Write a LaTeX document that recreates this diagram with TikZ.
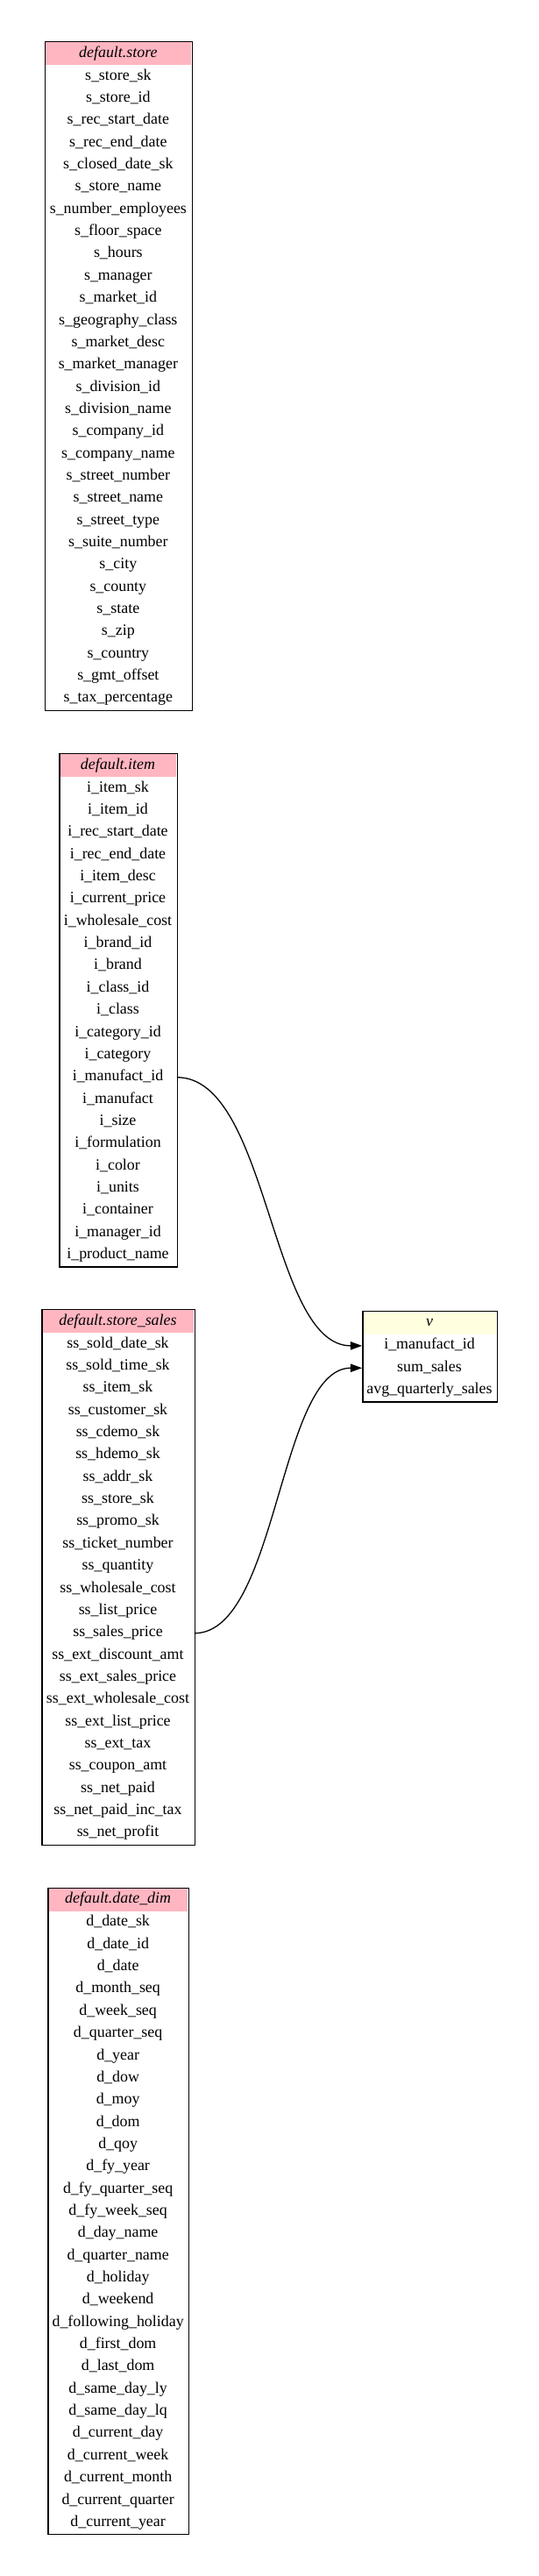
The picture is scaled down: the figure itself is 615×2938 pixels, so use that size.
\documentclass[tikz,border=0pt]{standalone}
\usepackage{fontspec}
\setmainfont{Liberation Serif}
\usetikzlibrary{arrows.meta}
\definecolor{hdrpink}{RGB}{255,182,193}
\definecolor{hdryellow}{RGB}{255,255,224}
\tikzset{
  fld/.style={inner sep=0pt, minimum height=25.35bp, text height=12.5bp, text depth=4.5bp, font=\fontsize{17.9bp}{20bp}\selectfont, text=black},
  hdr/.style={inner sep=0pt, minimum height=26bp, text height=12.5bp, text depth=4.5bp, font=\fontsize{17.9bp}{20bp}\selectfont\itshape, text=black},
  frame/.style={draw=black, line width=1.3bp, inner sep=0pt, anchor=north west},
  edge/.style={draw=black, line width=1.3bp, -{Triangle[length=13.3bp,width=9.3bp]}}
}
% #1 name, #2 x left, #3 x right, #4 y top, #5 header, #6 header colour, #7 number of rows, #8 fields
\newcommand{\mktable}[8]{%
  \pgfmathsetmacro\tw{#3-#2}%
  \pgfmathsetmacro\tcx{(#2+#3)/2}%
  \pgfmathsetmacro\th{27.5+#7*25.35}%
  \node[hdr, fill=#6, minimum width={(\tw-2)*1bp}] (#1-0) at (\tcx, {-(#4)-14}) {#5};
  \foreach \f [count=\i] in {#8} {
    \node[fld, minimum width={\tw*1bp}] (#1-\i) at (\tcx, {-(#4)-27.5-(\i-0.5)*25.35}) {\f};
  }
  \node[frame, minimum width={\tw*1bp}, minimum height={\th*1bp}] (#1) at (#2,-#4) {};
}
\begin{document}
\begin{tikzpicture}[x=1bp,y=1bp]
\useasboundingbox (0,0) rectangle (615,-2938);

\mktable{store}{50.7}{219}{47}{default.store}{hdrpink}{29}{s\_store\_sk,s\_store\_id,s\_rec\_start\_date,s\_rec\_end\_date,s\_closed\_date\_sk,s\_store\_name,s\_number\_employees,s\_floor\_space,s\_hours,s\_manager,s\_market\_id,s\_geography\_class,s\_market\_desc,s\_market\_manager,s\_division\_id,s\_division\_name,s\_company\_id,s\_company\_name,s\_street\_number,s\_street\_name,s\_street\_type,s\_suite\_number,s\_city,s\_county,s\_state,s\_zip,s\_country,s\_gmt\_offset,s\_tax\_percentage}

\mktable{item}{67.3}{201.7}{859}{default.item}{hdrpink}{22}{i\_item\_sk,i\_item\_id,i\_rec\_start\_date,i\_rec\_end\_date,i\_item\_desc,i\_current\_price,i\_wholesale\_cost,i\_brand\_id,i\_brand,i\_class\_id,i\_class,i\_category\_id,i\_category,i\_manufact\_id,i\_manufact,i\_size,i\_formulation,i\_color,i\_units,i\_container,i\_manager\_id,i\_product\_name}

\mktable{ss}{47.3}{221.7}{1493}{default.store\_sales}{hdrpink}{23}{ss\_sold\_date\_sk,ss\_sold\_time\_sk,ss\_item\_sk,ss\_customer\_sk,ss\_cdemo\_sk,ss\_hdemo\_sk,ss\_addr\_sk,ss\_store\_sk,ss\_promo\_sk,ss\_ticket\_number,ss\_quantity,ss\_wholesale\_cost,ss\_list\_price,ss\_sales\_price,ss\_ext\_discount\_amt,ss\_ext\_sales\_price,ss\_ext\_wholesale\_cost,ss\_ext\_list\_price,ss\_ext\_tax,ss\_coupon\_amt,ss\_net\_paid,ss\_net\_paid\_inc\_tax,ss\_net\_profit}

\mktable{dd}{54.3}{215}{2152.7}{default.date\_dim}{hdrpink}{28}{d\_date\_sk,d\_date\_id,d\_date,d\_month\_seq,d\_week\_seq,d\_quarter\_seq,d\_year,d\_dow,d\_moy,d\_dom,d\_qoy,d\_fy\_year,d\_fy\_quarter\_seq,d\_fy\_week\_seq,d\_day\_name,d\_quarter\_name,d\_holiday,d\_weekend,d\_following\_holiday,d\_first\_dom,d\_last\_dom,d\_same\_day\_ly,d\_same\_day\_lq,d\_current\_day,d\_current\_week,d\_current\_month,d\_current\_quarter,d\_current\_year}

\mktable{v}{413.3}{566.7}{1494.7}{v}{hdryellow}{3}{i\_manufact\_id,sum\_sales,avg\_quarterly\_sales}

\draw[edge] (item-14.east) .. controls +(105,0) and +(-105,0) .. (v-1.west);
\draw[edge] (ss-14.east) .. controls +(95,0) and +(-95,0) .. (v-2.west);
\end{tikzpicture}
\end{document}
